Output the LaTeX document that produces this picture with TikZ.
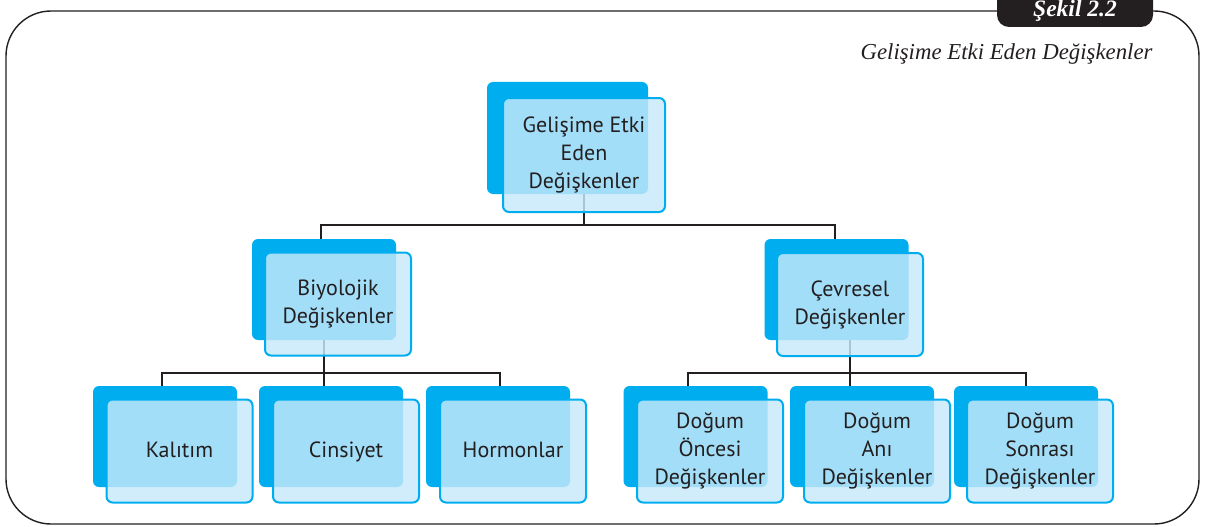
\documentclass[tikz,border=0pt]{standalone}
\usepackage{fontspec}
\setmainfont{Liberation Serif}
\newfontfamily\boxfont{PT Sans}
\usetikzlibrary{calc}
\definecolor{cyanc}{RGB}{0,174,239}
\definecolor{frontc}{RGB}{199,233,250}
\definecolor{inkc}{RGB}{35,31,32}
\pgfdeclarelayer{bg}
\pgfsetlayers{bg,main}
\tikzset{
  backbox/.style={fill=cyanc, draw=none, rounded corners=6pt, inner sep=0pt,
    minimum width=144pt, minimum height=101pt},
  frontbox/.style={fill=frontc, fill opacity=0.82, text opacity=1, draw=cyanc, draw opacity=1,
    line width=2pt, rounded corners=6pt, inner sep=0pt, align=center, text=inkc,
    minimum width=146pt, minimum height=103pt,
    font=\boxfont\fontsize{22}{28}\selectfont},
  conn/.style={draw=inkc, line width=2.2pt},
  frame/.style={draw=inkc, line width=1.4pt, rounded corners=45pt},
}
\begin{document}
\begin{tikzpicture}[x=1pt,y=-1pt]
\useasboundingbox (0,0) rectangle (1205,527);
% frame
\draw[frame] (6,11) rectangle (1199,524);
\fill[inkc, rounded corners=12pt] (997,-30) rectangle (1153,27);
\node[text=white, font=\bfseries\itshape\fontsize{23.5}{26}\selectfont] (tab) at (1075,11) {Şekil 2.2};
\node[anchor=east, text=inkc, font=\itshape\fontsize{22.8}{26}\selectfont] (title) at (1156,54) {Gelişime Etki Eden Değişkenler};

% top
\node[backbox, minimum width=161pt, minimum height=112pt] (topB) at (567.5,138) {};
\node[frontbox, minimum width=162pt, minimum height=114pt] (topF) at (584,155) {Gelişime Etki\\Eden\\Değişkenler};
% level 2
\node[backbox] (bioB) at (324,289.5) {};
\node[frontbox] (bioF) at (338,304) {Biyolojik\\Değişkenler};
\node[backbox] (cevB) at (836.5,289.5) {};
\node[frontbox] (cevF) at (850,304.5) {Çevresel\\Değişkenler};
% level 3
\node[backbox] (kalB) at (165,436.5) {};
\node[frontbox, text depth=3pt] (kalF) at (179.5,451) {Kalıtım};
\node[backbox] (cinB) at (331,436.5) {};
\node[frontbox, text depth=3pt] (cinF) at (346,451) {Cinsiyet};
\node[backbox] (horB) at (498,436.5) {};
\node[frontbox, text depth=3pt] (horF) at (513,451) {Hormonlar};
\node[backbox] (onB) at (695.5,436.5) {};
\node[frontbox] (onF) at (710,451) {Doğum\\Öncesi\\Değişkenler};
\node[backbox] (anB) at (862,436.5) {};
\node[frontbox] (anF) at (877,451) {Doğum\\Anı\\Değişkenler};
\node[backbox] (soB) at (1026,436.5) {};
\node[frontbox] (soF) at (1040,451) {Doğum\\Sonrası\\Değişkenler};

\begin{pgfonlayer}{bg}
  \coordinate (busA) at (0,225);
  \coordinate (busB) at (0,373);
  \draw[conn] (topF.center) -- (topF.center |- busA);
  \draw[conn] ([xshift=-3pt]bioB.north) -- ([xshift=-3pt]bioB.north |- busA) -| ([xshift=-1.5pt]cevB.north);
  % left group
  \draw[conn] (bioB.center) -- (bioB.center |- cinB.north);
  \draw[conn] ([xshift=-3pt]kalB.north) -- ([xshift=-3pt]kalB.north |- busB) -| ([xshift=2pt]horB.north);
  % right group
  \draw[conn] (cevF.center) -- (cevF.center |- anB.north);
  \draw[conn] ([xshift=-7.5pt]onB.north) -- ([xshift=-7.5pt]onB.north |- busB) -| (soB.north);
\end{pgfonlayer}
\end{tikzpicture}
\end{document}
